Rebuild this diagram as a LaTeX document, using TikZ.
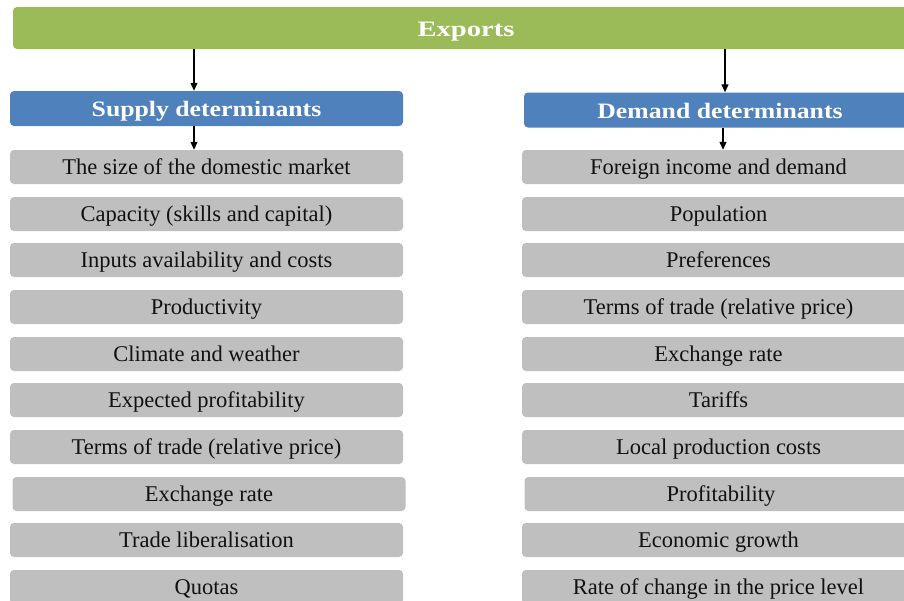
\documentclass[tikz,border=0pt]{standalone}
\usepackage{fontspec}
\setmainfont{Liberation Serif}
\newfontfamily\hdfont[FakeStretch=1.17]{Liberation Serif}
\newfontfamily\topfont[FakeStretch=1.3]{Liberation Serif}
\usetikzlibrary{arrows.meta}
\definecolor{topgreen}{HTML}{9BBB59}
\definecolor{hdblue}{HTML}{4F81BD}
\definecolor{boxgray}{HTML}{BFBFBF}
\definecolor{boxtext}{HTML}{111111}
\tikzset{
  itembox/.style={fill=boxgray, rounded corners=4pt, minimum width=393pt, minimum height=34pt,
    inner sep=0pt, text height=17pt, text depth=3pt, text=boxtext, font=\fontsize{22.5}{24}\selectfont},
  hdbox/.style={fill=hdblue, rounded corners=4pt, minimum height=35pt, inner sep=0pt,
    text height=18pt, text depth=1.6pt,
    text=white, font=\hdfont\bfseries\fontsize{22}{24}\selectfont},
  topbox/.style={fill=topgreen, rounded corners=4pt, minimum height=42pt, inner sep=0pt,
    text height=19pt, text depth=1.6pt,
    text=white, font=\topfont\bfseries\fontsize{22}{24}\selectfont},
  arr/.style={draw=black, line width=1.3pt, -{Triangle[length=8pt,width=7pt]}}
}
\begin{document}
\begin{tikzpicture}[x=1pt,y=-1pt]
\useasboundingbox (0,0) rectangle (904,600);
\clip (0,0) rectangle (904,600);
\fill[white] (0,0) rectangle (904,600);
% top
\node[topbox, minimum width=906pt] (top) at (466,28) {Exports};
% headers
\node[hdbox, minimum width=393pt] (sup) at (206.5,108.5) {Supply determinants};
\node[hdbox, minimum width=392pt] (dem) at (720,110) {Demand determinants};
% left column
\node[itembox] (l1) at (206.5,167) {The size of the domestic market};
\node[itembox] (l2) at (206.5,214) {Capacity (skills and capital)};
\node[itembox] (l3) at (206.5,260) {Inputs availability and costs};
\node[itembox] (l4) at (206.5,307) {Productivity};
\node[itembox] (l5) at (206.5,354) {Climate and weather};
\node[itembox] (l6) at (206.5,400) {Expected profitability};
\node[itembox] (l7) at (206.5,447) {Terms of trade (relative price)};
\node[itembox] (l8) at (209,494) {Exchange rate};
\node[itembox] (l9) at (206.5,540) {Trade liberalisation};
\node[itembox] (l10) at (206.5,587) {Quotas};
% right column
\node[itembox] (r1) at (718.5,167) {Foreign income and demand};
\node[itembox] (r2) at (718.5,214) {Population};
\node[itembox] (r3) at (718.5,260) {Preferences};
\node[itembox] (r4) at (718.5,307) {Terms of trade (relative price)};
\node[itembox] (r5) at (718.5,354) {Exchange rate};
\node[itembox] (r6) at (718.5,400) {Tariffs};
\node[itembox] (r7) at (718.5,447) {Local production costs};
\node[itembox] (r8) at (721,494) {Profitability};
\node[itembox] (r9) at (718.5,540) {Economic growth};
\node[itembox] (r10) at (718.5,587) {Rate of change in the price level};
% arrows
\draw[arr] (top.south -| 194,0) -- (194,0 |- sup.north);
\draw[arr] (top.south -| 725,0) -- (725,0 |- dem.north);
\draw[arr] (sup.south -| 194,0) -- (194,0 |- l1.north);
\draw[arr] (dem.south -| 723,0) -- (723,0 |- r1.north);
\end{tikzpicture}
\end{document}
